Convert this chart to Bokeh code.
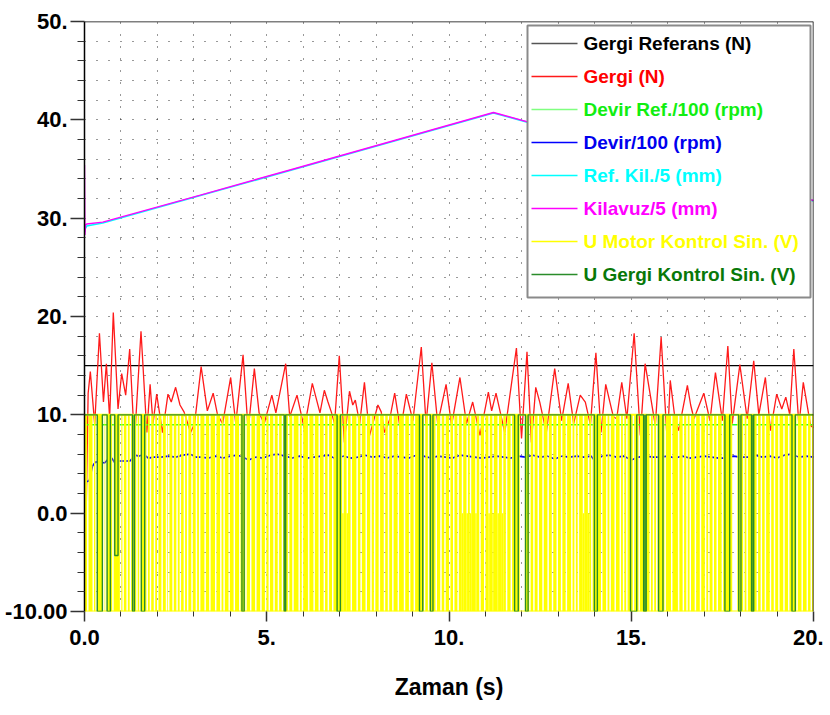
from bokeh.plotting import figure
from bokeh.models import Range1d, FixedTicker, Span
from bokeh.core.properties import value
from bokeh.embed import file_html
from bokeh.resources import INLINE

# ---------------- data ----------------
x_ticks = [0, 5, 10, 15, 20]
x_tick_labels = ["0.0", "5.", "10.", "15.", "20."]
x_minor = [1, 2, 3, 4, 6, 7, 8, 9, 11, 12, 13, 14, 16, 17, 18, 19]
y_ticks = [-10, 0, 10, 20, 30, 40, 50]
y_tick_labels = ["-10.00", "0.0", "10.", "20.", "30.", "40.", "50."]
y_minor = [-8, -6, -4, -2, 2, 4, 6, 8, 12, 14, 16, 18, 22, 24, 26, 28,
           32, 34, 36, 38, 42, 44, 46, 48]

series_names = ["Gergi Referans (N)", "Gergi (N)", "Devir Ref./100 (rpm)",
                "Devir/100 (rpm)", "Ref. Kil./5 (mm)", "Kilavuz/5 (mm)",
                "U Motor Kontrol Sin. (V)", "U Gergi Kontrol Sin. (V)"]

gergi_ref_t = [0.0, 20.0]
gergi_ref_v = [15.0, 15.0]

gergi_t = [0.00, 0.05, 0.10, 0.16, 0.28, 0.41, 0.52, 0.60, 0.69, 0.79, 0.92, 1.02,
           1.13, 1.24, 1.37, 1.55, 1.71, 1.80, 1.88, 1.98, 2.14, 2.29, 2.38, 2.50,
           2.62, 2.73, 2.91, 3.02, 3.20, 3.37, 3.53, 3.65, 3.79, 4.01, 4.15, 4.35,
           4.49, 4.66, 4.79, 4.93, 5.14, 5.25, 5.52, 5.63, 5.83, 6.03, 6.25, 6.46,
           6.58, 6.68, 6.77, 6.86, 6.99, 7.13, 7.27, 7.36, 7.43, 7.55, 7.68, 7.82,
           7.91, 8.05, 8.14, 8.23, 8.37, 8.51, 8.67, 8.83, 9.01, 9.24, 9.37, 9.53,
           9.69, 9.92, 10.07, 10.30, 10.48, 10.65, 10.85, 11.08, 11.17, 11.29, 11.53,
           11.85, 11.99, 12.14, 12.26, 12.38, 12.49, 12.67, 12.90, 13.09, 13.27,
           13.42, 13.60, 13.74, 13.88, 14.03, 14.17, 14.30, 14.51, 14.60, 14.74,
           14.88, 15.08, 15.25, 15.38, 15.66, 15.82, 15.99, 16.07, 16.20, 16.30,
           16.54, 16.63, 16.72, 16.99, 17.16, 17.31, 17.50, 17.65, 17.77, 17.98,
           18.18, 18.36, 18.50, 18.68, 18.82, 18.99, 19.13, 19.24, 19.35, 19.46,
           19.60, 19.72, 19.92, 20.00]
gergi_v = [0.6, 0.8, 12.2, 14.4, 9.0, 18.3, 11.3, 15.2, 9.6, 20.4, 10.6, 14.2,
           12.0, 16.7, 7.2, 18.5, 8.2, 13.1, 9.1, 12.1, 8.2, 12.1, 11.3, 12.8,
           11.0, 10.3, 8.2, 9.1, 14.9, 10.4, 12.2, 10.0, 9.1, 13.8, 9.1, 16.1,
           8.4, 14.7, 10.2, 9.1, 12.0, 10.2, 15.2, 9.8, 12.0, 8.6, 13.2, 10.2,
           12.5, 11.3, 10.3, 9.1, 16.0, 7.2, 12.4, 11.0, 11.5, 9.1, 13.3, 7.9,
           9.1, 11.0, 10.3, 8.2, 9.5, 12.2, 8.4, 12.1, 9.4, 16.9, 9.1, 15.3,
           9.1, 13.1, 8.9, 13.8, 9.1, 11.3, 7.9, 12.3, 10.4, 12.2, 8.2,
           16.8, 7.6, 16.4, 7.2, 12.8, 11.3, 8.2, 14.7, 9.4, 13.2,
           9.1, 12.0, 11.3, 9.0, 16.3, 8.2, 13.1, 9.8, 9.6, 13.3,
           9.6, 18.3, 7.9, 15.2, 8.9, 17.9, 7.1, 13.5, 9.6, 8.4,
           13.0, 11.0, 9.6, 12.2, 9.4, 14.3, 9.4, 17.0, 9.1, 15.1,
           9.6, 15.5, 10.0, 13.8, 8.4, 12.1, 10.6, 11.8, 10.0, 16.7,
           8.9, 13.3, 8.9, 8.7]

devir_ref_t = [0.0, 20.0]
devir_ref_v = [9.0, 9.0]

devir_t = [0.00, 0.05, 0.13, 0.22, 0.30, 0.45, 0.55, 0.65, 0.75, 0.85, 0.95, 1.10,
           1.25, 1.38, 1.50, 1.62, 1.75, 1.90, 2.10, 2.30, 2.50, 2.70, 2.90, 3.05,
           3.20, 3.40, 3.60, 3.80, 4.00, 4.20, 4.35, 4.50, 4.70, 4.90, 5.10, 5.30,
           5.50, 5.70, 5.90, 6.10, 6.30, 6.50, 6.70, 6.90, 7.10, 7.30, 7.50, 7.70,
           7.90, 8.10, 8.30, 8.50, 8.70, 8.90, 9.10, 9.30, 9.50, 9.70, 9.90, 10.10,
           10.30, 10.50, 10.70, 10.90, 11.10, 11.30, 11.50, 11.70, 11.90, 12.10,
           12.30, 12.50, 12.70, 12.90, 13.10, 13.30, 13.50, 13.70, 13.90, 14.00,
           14.20, 14.40, 14.60, 14.80, 15.00, 15.20, 15.40, 15.60, 15.80, 16.00,
           16.20, 16.40, 16.60, 16.80, 17.00, 17.20, 17.40, 17.60, 17.80, 18.00,
           18.20, 18.40, 18.60, 18.80, 19.00, 19.20, 19.40, 19.60, 19.80, 20.00]
devir_v = [0.5, 3.2, 3.3, 4.8, 5.2, 5.2, 5.1, 5.5, 5.6, 5.0, 5.3, 5.3,
           5.3, 5.9, 5.8, 6.0, 5.6, 5.7, 5.7, 5.8, 5.7, 5.9, 6.0, 5.7,
           5.7, 5.6, 5.8, 5.6, 5.8, 5.9, 5.7, 5.4, 5.7, 5.6, 5.9, 6.0,
           5.8, 5.6, 5.8, 5.6, 5.7, 5.8, 5.9, 5.5, 5.8, 5.6, 5.7, 5.9,
           5.7, 5.8, 5.6, 5.8, 5.7, 5.6, 5.9, 5.8, 5.6, 5.8, 5.7, 5.6,
           5.9, 5.8, 5.7, 5.6, 5.7, 5.8, 5.7, 5.6, 5.8, 5.7,
           5.9, 5.7, 5.8, 5.5, 5.8, 5.7, 5.8, 5.7, 5.8, 5.3,
           5.8, 5.9, 5.7, 5.8, 5.4, 5.7, 5.8, 5.7, 5.7, 5.8,
           5.6, 5.8, 5.6, 5.7, 5.8, 5.7, 5.6, 5.6, 5.8, 5.7,
           5.7, 5.9, 5.7, 5.8, 5.6, 5.9, 6.0, 5.7, 5.8, 5.7]

kil_t = [0.00, 0.01, 0.03, 0.06, 0.50, 3.18, 5.93, 11.22, 20.00]
ref_kil_v = [28.6, 28.8, 29.0, 29.2, 29.5, 32.3, 35.15, 40.7, 31.75]
kilavuz_v = [35.4, 28.3, 29.3, 29.4, 29.6, 32.35, 35.2, 40.75, 31.8]

motor_hi = 10.0
motor_lo = -10.0
motor_gap_t = [0.09, 0.24, 0.32, 0.53, 0.59, 0.78, 0.99, 1.06, 1.17, 1.26, 1.44, 1.52,
               1.72, 1.81, 1.92, 2.01, 2.13, 2.25, 2.31, 2.43, 2.54, 2.63, 2.74, 2.83,
               2.95, 3.07, 3.16, 3.31, 3.44, 3.60, 3.74, 3.83, 3.97, 4.11, 4.26, 4.43,
               4.56, 4.70, 4.84, 4.97, 5.07, 5.20, 5.32, 5.43, 5.60, 5.72, 5.89, 5.98,
               6.15, 6.30, 6.44, 6.58, 6.69, 6.81, 7.09, 7.21, 7.32, 7.48, 7.59, 7.73,
               7.86, 7.96, 8.09, 8.23, 8.34, 8.46, 8.61, 8.78, 8.92, 9.05, 9.33, 9.44,
               9.65, 9.78, 9.89, 10.02, 10.13, 10.25, 10.37, 10.50, 10.59, 10.74, 10.85,
               10.98, 11.10, 11.21, 11.35, 11.47, 11.58, 11.71, 12.01, 12.22, 12.33,
               12.45, 12.58, 12.72, 12.84, 12.97, 13.09, 13.22, 13.37, 13.46, 13.55,
               13.69, 13.83, 13.92, 14.19, 14.33, 14.42, 14.56, 14.70, 14.79, 14.88,
               15.06, 15.22, 15.52, 15.61, 15.70, 15.93, 16.11, 16.30, 16.43, 16.53,
               16.62, 16.76, 16.90, 17.04, 17.13, 17.25, 17.36, 17.50, 17.84, 18.09,
               18.18, 18.46, 18.57, 18.68, 18.82, 18.93, 19.05, 19.19, 19.32, 19.55,
               19.69, 19.83, 19.94]
motor_gap_w = {12.01: 0.14, 17.84: 0.14}
motor_upper_only = [7.09, 7.21, 10.37, 10.50, 10.59, 10.74, 11.10, 11.21, 11.35,
                    11.47, 13.69, 13.83]

gergi_ctl_hi = 10.0
pulse_start = [0.35, 0.62, 0.83, 1.32, 1.56, 4.32, 5.48, 6.93, 9.19, 9.49, 11.80,
               12.10, 13.99, 14.98, 15.34, 15.75, 17.57, 17.95, 18.30, 19.41]
pulse_end = [0.49, 0.71, 0.92, 1.37, 1.65, 4.38, 5.52, 7.02, 9.28, 9.56, 11.90,
             12.17, 14.07, 15.15, 15.41, 15.87, 17.70, 18.01, 18.36, 19.50]
pulse_low = [-10, -10, -4.3, -10, -10, -10, -10, -10, -10, -10, -10,
             -10, -10, -10, -10, -10, -10, -10, -10, -10]
pulse_filled = [15.34, 18.30]

# ---------------- styling ----------------
C_BLACK, C_RED, C_LIME, C_BLUE = "#000000", "#ff1a1a", "#22ff22", "#0000ff"
C_CYAN, C_MAG, C_YEL, C_GRN = "#00ffff", "#ff00ff", "#ffff00", "#2a8c2a"
text_cols = ["#000000", "#ff0000", "#11ee11", "#0000ee", "#00ffff", "#ff00ff",
             "#ffff00", "#087808"]
sample_cols = ["#555555", C_RED, "#80ff80", C_BLUE, C_CYAN, C_MAG, C_YEL, C_GRN]
FONT_NAME = "Liberation Sans"

X0, Y0, FW, FH = 84, 21, 729, 590   # frame in page pixels (page has no margin)
XMIN, XMAX, YMIN, YMAX = 0, 20, -10, 50


def px_t(px):
    return XMIN + (px - X0) / FW * (XMAX - XMIN)


def py_v(py):
    return YMAX - (py - Y0) / FH * (YMAX - YMIN)


p = figure(x_range=Range1d(XMIN, XMAX), y_range=Range1d(YMIN, YMAX),
           frame_width=FW, frame_height=FH, min_border_left=X0,
           min_border_right=10, min_border_top=Y0, min_border_bottom=0,
           output_backend="svg", toolbar_location=None)
p.outline_line_color = None
p.background_fill_color = "white"

# axes
xt = FixedTicker(ticks=x_ticks, minor_ticks=x_minor)
yt = FixedTicker(ticks=y_ticks, minor_ticks=y_minor)
p.xaxis.ticker = xt
p.yaxis.ticker = yt
p.xgrid.ticker = xt
p.ygrid.ticker = yt
p.xaxis.major_label_overrides = dict(zip(x_ticks, x_tick_labels))
p.yaxis.major_label_overrides = dict(zip(y_ticks, y_tick_labels))
for ax in (p.xaxis, p.yaxis):
    ax.major_label_text_font = FONT_NAME
    ax.major_label_text_font_style = "bold"
    ax.major_label_text_font_size = "22px"
    ax.major_label_text_color = "black"
    ax.major_tick_in = 0
    ax.minor_tick_in = 0
    ax.major_tick_line_color = "#333333"
    ax.minor_tick_line_color = "#333333"
    ax.major_tick_line_width = 1.5
p.yaxis.axis_line_color = "black"
p.yaxis.axis_line_width = 1.5
p.yaxis.major_tick_out = 14
p.yaxis.minor_tick_out = 7
p.yaxis.major_label_standoff = 3
p.xaxis.axis_line_color = None
p.xaxis.major_tick_out = 10
p.xaxis.minor_tick_out = 5
p.xaxis.major_label_standoff = 8
p.xaxis.axis_label = "Zaman (s)"
p.xaxis.axis_label_text_font = FONT_NAME
p.xaxis.axis_label_text_font_style = "bold"
p.xaxis.axis_label_text_font_size = "23px"
p.xaxis.axis_label_text_color = "black"
p.xaxis.axis_label_standoff = 26

for g in (p.xgrid, p.ygrid):
    g.grid_line_color = "black"
    g.grid_line_dash = "1 11"
    g.grid_line_alpha = 0.8
    g.minor_grid_line_color = "black"
    g.minor_grid_line_dash = "1 11"
    g.minor_grid_line_alpha = 0.8

# series
p.line(gergi_ref_t, gergi_ref_v, line_color=C_BLACK, line_width=1.3)
p.line(gergi_t, gergi_v, line_color=C_RED, line_width=1.3)
p.line(devir_ref_t, devir_ref_v, line_color=C_LIME, line_width=1.5)
p.line(devir_t, devir_v, line_color=C_BLUE, line_width=1.6)
p.line(kil_t, ref_kil_v, line_color=C_CYAN, line_width=1.6)
p.line(kil_t, kilavuz_v, line_color=C_MAG, line_width=1.4)

# U Motor: rapid switching between motor_lo and motor_hi, white where it rests
half = 0.02
g_lo = [t - motor_gap_w.get(t, 2 * half) / 2 for t in motor_gap_t]
g_hi = [t + motor_gap_w.get(t, 2 * half) / 2 for t in motor_gap_t]
blk_l = [XMIN] + g_hi
blk_r = g_lo + [XMAX]
p.quad(left=blk_l, right=blk_r, bottom=motor_lo, top=motor_hi,
       fill_color=C_YEL, line_color=None)
uo_l = [t - half for t in motor_upper_only]
uo_r = [t + half for t in motor_upper_only]
p.quad(left=uo_l, right=uo_r, bottom=motor_lo, top=0,
       fill_color=C_YEL, line_color=None)
p.line([XMIN, XMAX], [motor_lo, motor_lo], line_color=C_YEL, line_width=2)
p.line([XMIN, XMAX], [motor_hi, motor_hi], line_color=C_YEL, line_width=2)

# U Gergi: step signal at +10 with pulses
gx, gy = [XMIN], [gergi_ctl_hi]
for a, b, lo in zip(pulse_start, pulse_end, pulse_low):
    gx += [a, a, b, b]
    gy += [gergi_ctl_hi, lo, lo, gergi_ctl_hi]
gx.append(XMAX)
gy.append(gergi_ctl_hi)
fl = [i for i, a in enumerate(pulse_start) if a in pulse_filled]
p.quad(left=[pulse_start[i] for i in fl], right=[pulse_end[i] for i in fl],
       bottom=[pulse_low[i] for i in fl], top=gergi_ctl_hi,
       fill_color=C_GRN, fill_alpha=0.75, line_color=None)
p.line(gx, gy, line_color=C_GRN, line_width=1.4)

# frame top/right borders
p.add_layout(Span(location=YMAX, dimension="width", line_color="black", line_width=1.5))
p.add_layout(Span(location=XMAX, dimension="height", line_color="black", line_width=1.5))

# legend (drawn as a box with coloured entries)
p.quad(left=px_t(527), right=px_t(810), top=py_v(25), bottom=py_v(297),
       fill_color="white", line_color="#8a8a8a", line_width=2)
row_py = [43 + 33 * i for i in range(len(series_names))]
p.segment(x0=[px_t(531)] * 8, x1=[px_t(577)] * 8, y0=[py_v(y) for y in row_py],
          y1=[py_v(y) for y in row_py], line_color=sample_cols, line_width=1.5)
p.text(x=[px_t(583)] * 8, y=[py_v(y) for y in row_py], text=series_names,
       text_color=text_cols, text_font=value(FONT_NAME), text_font_style="bold",
       text_font_size="19px", text_baseline="middle", text_align="left")

open("out.html", "w").write(file_html(p, INLINE))
